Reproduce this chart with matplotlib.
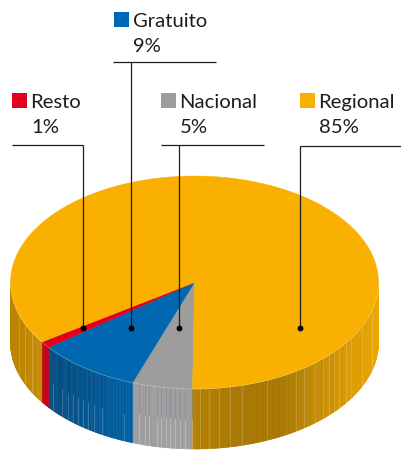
import numpy as np
import matplotlib
matplotlib.use('Agg')
import matplotlib.pyplot as plt
from matplotlib.patches import Polygon, Rectangle

# data
categorias = ['Nacional', 'Gratuito', 'Resto', 'Regional']
etiquetas = ['5%', '9%', '1%', '85%']
porcentajes = [5.3, 9.1, 1.0, 84.6]
colores = ['#9D9D9E', '#0067B1', '#E2001A', '#F9B000']

# posicion de la tarta (pixeles)
cx, cy = 194.5, 282.5
rx, ry = 184.0, 106.5
alto = 60.0
inicio = 180.6  # grados desde arriba, sentido horario

# rayas claras del lateral (x en pixeles)
rayas = [19, 25, 32, 53, 62, 68, 73, 78, 83, 88, 94, 102, 124, 139, 145, 149,
         157, 161, 166, 170, 175, 180, 185, 192, 200, 209, 219, 230, 242, 267,
         296, 304, 315, 323, 329, 334, 339, 346, 351, 362, 372]


def punto(ang):
    a = np.radians(ang)
    return cx + rx * np.sin(a), cy - ry * np.cos(a)


def sombra(nombre, x):
    if nombre == 'Regional':
        return np.interp(x, [11, 45, 195, 230, 280, 340, 379],
                         [0.75, 0.80, 0.72, 0.68, 0.67, 0.85, 0.95])
    if nombre == 'Gratuito':
        return np.interp(x, [50, 130], [0.72, 0.92])
    if nombre == 'Nacional':
        return 1.0
    return 0.85


fig = plt.figure(figsize=(4.01, 4.51), dpi=100)
ax = fig.add_axes([0, 0, 1, 1])
ax.set_xlim(0, 401)
ax.set_ylim(451, 0)
ax.axis('off')

# angulos de cada porcion
angulos = inicio + np.cumsum([0] + porcentajes) * 3.6

# lateral
for i, nombre in enumerate(categorias):
    base = np.array(matplotlib.colors.to_rgb(colores[i]))
    a0, a1 = angulos[i], angulos[i + 1]
    pasos = np.linspace(a0, a1, int((a1 - a0) * 2) + 2)
    for p0, p1 in zip(pasos[:-1], pasos[1:]):
        # solo la mitad de delante se ve
        if np.cos(np.radians((p0 + p1) / 2)) > 0:
            continue
        x0, y0 = punto(p0)
        x1, y1 = punto(p1)
        c = base * sombra(nombre, (x0 + x1) / 2)
        ax.add_patch(Polygon([(x0, y0), (x1, y1), (x1, y1 + alto), (x0, y0 + alto)],
                             facecolor=c, edgecolor=c, lw=0.4, zorder=2))

# rayas
for x in rayas:
    dy = ry * np.sqrt(1 - ((x - cx) / rx) ** 2)
    y0 = cy + dy
    if x < 133 and x > 45:
        ax.plot([x, x], [y0, y0 + alto * 0.55], color='#003f70', lw=0.6, alpha=0.4, zorder=3)
        ax.plot([x, x], [y0 + alto * 0.55, y0 + alto], color='white', lw=0.6, alpha=0.22, zorder=3)
    elif 133 <= x < 193:
        ax.plot([x, x], [y0, y0 + alto * 0.5], color='#6f8598', lw=0.6, alpha=0.5, zorder=3)
        ax.plot([x, x], [y0 + alto * 0.5, y0 + alto], color='white', lw=0.6, alpha=0.3, zorder=3)
    else:
        ax.plot([x, x], [y0, y0 + alto], color='white', lw=0.6, alpha=0.22, zorder=3)

# cara de arriba
for i, nombre in enumerate(categorias):
    pasos = np.linspace(angulos[i], angulos[i + 1], 200)
    xs, ys = punto(pasos)
    pts = [(cx, cy)] + list(zip(xs, ys))
    ax.add_patch(Polygon(pts, closed=True, facecolor=colores[i], edgecolor=colores[i],
                         lw=0.3, zorder=4))

# borde claro de delante
borde = np.linspace(90, 270, 300)
ax.plot(*punto(borde), color='white', lw=0.5, alpha=0.35, zorder=4.5)

# leyenda y lineas
fuente = 'Lato'
tam = 14.6
leyenda = {
    'Gratuito': (114, 12, 61.5, 113, 216, 130.5),
    'Resto': (12, 93, 145, 12, 83, 83),
    'Nacional': (161, 93, 145, 161, 264, 179),
    'Regional': (300, 93, 145.5, 300, 401, 299.5),
}
for i, nombre in enumerate(categorias):
    sx, sy, ly, lx0, lx1, vx = leyenda[nombre]
    ax.add_patch(Rectangle((sx, sy), 15, 15, facecolor=colores[i], edgecolor='none', zorder=5))
    ax.text(sx + 18.5, sy + 15, nombre, fontsize=tam, family=fuente, color='#1d1d1b',
            va='baseline', ha='left', zorder=6)
    ax.text(sx + 19, sy + 40, etiquetas[i], fontsize=tam, family=fuente, color='#1d1d1b',
            va='baseline', ha='left', zorder=6)
    ax.plot([lx0, lx1], [ly, ly], color='#1d1d1b', lw=0.9, zorder=6, solid_capstyle='butt')
    ax.plot([vx, vx], [ly, 328], color='#1d1d1b', lw=0.9, zorder=6, solid_capstyle='butt')
    ax.plot([vx], [328], 'o', color='black', ms=4.2, mew=0, zorder=7)

fig.savefig('out.png', dpi=100)
